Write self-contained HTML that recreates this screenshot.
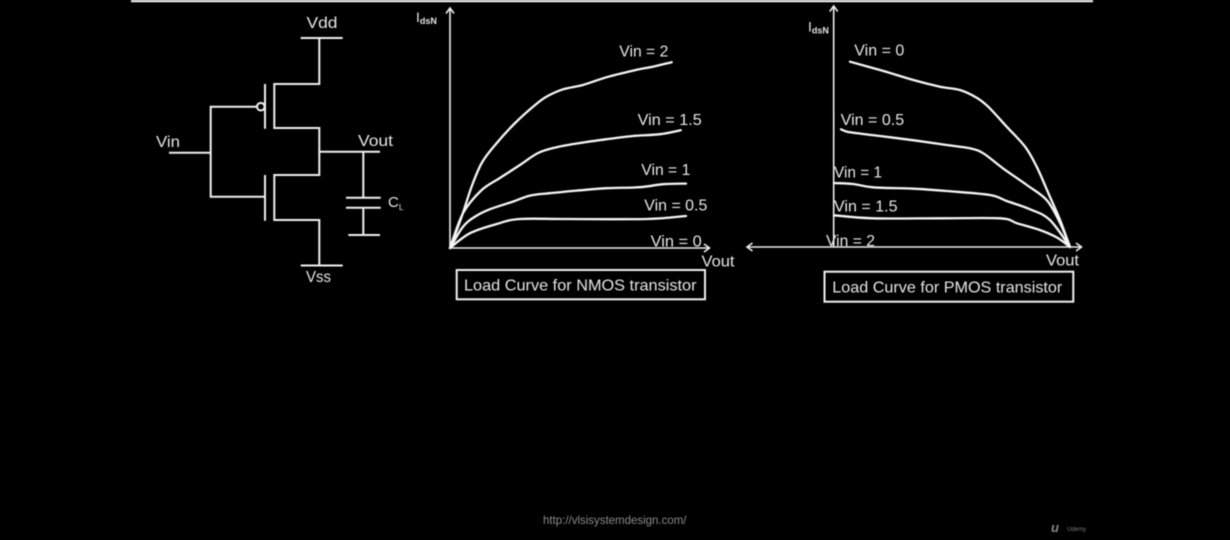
<!DOCTYPE html>
<html>
<head>
<meta charset="utf-8">
<title>CMOS inverter load curves</title>
<style>
html,body{margin:0;padding:0;background:#000;width:1230px;height:540px;overflow:hidden}
svg{display:block}
text{font-family:"Liberation Sans",sans-serif;fill:#e6e6e6;font-size:16px}
.w{stroke:#f0f0f0;stroke-width:2;fill:none}
.axis{stroke:#ececec;stroke-width:1.6;fill:none}
.curve{stroke:#f6f6f6;stroke-width:2.3;fill:none;stroke-linejoin:round;stroke-linecap:round}
</style>
</head>
<body>
<svg xmlns="http://www.w3.org/2000/svg" width="1230" height="540" viewBox="0 0 1230 540">
<defs><filter id="soft" x="-2%" y="-2%" width="104%" height="104%"><feGaussianBlur stdDeviation="0.45"/></filter></defs>
<rect width="1230" height="540" fill="#000"/>
<g filter="url(#soft)">
<rect x="131" y="0" width="962" height="2.2" fill="#f4f4f4"/>

<g>
  <path class="w" d="M300.7 38H342.7M319.3 38V84H274.3V128H319.3V175H274.3V220H319.3V265.5M300.7 265.5H342.7"/>
  <path class="w" d="M169 152.7H210.7M256.5 106.7H210.7V196.7H265M265 84V128.7M265 175V220.7"/>
  <circle class="w" cx="260.8" cy="106.7" r="3.8"/>
  <path class="w" d="M319.3 151.7H380M363.3 151.7V197.7M346 197.7H380.7M346 207.7H380.7M363.3 207.7V235M348.3 235H380"/>
  <text x="306.5" y="28" textLength="31" lengthAdjust="spacingAndGlyphs">Vdd</text>
  <text x="306" y="282" textLength="25" lengthAdjust="spacingAndGlyphs">Vss</text>
  <text x="156" y="147" textLength="24" lengthAdjust="spacingAndGlyphs">Vin</text>
  <text x="358" y="146" textLength="35" lengthAdjust="spacingAndGlyphs">Vout</text>
  <text x="388" y="207" style="font-size:15px">C<tspan dy="3" style="font-size:8px">L</tspan></text>
</g>

<g id="nmos-chart">
  <path class="axis" d="M450 248V8M446 13.5L450 8L454 13.5"/>
  <path class="axis" d="M450 248H709M704 244L709.5 248L704 252"/>
  <text x="416" y="22" style="font-size:14px">I<tspan dy="2" style="font-size:9px;font-weight:bold">dsN</tspan></text>
  <text x="701.5" y="266.5" textLength="33" lengthAdjust="spacingAndGlyphs">Vout</text>
  <text x="619.3" y="56.7" textLength="49" lengthAdjust="spacingAndGlyphs">Vin = 2</text>
  <text x="637.7" y="125" textLength="64" lengthAdjust="spacingAndGlyphs">Vin = 1.5</text>
  <text x="641.3" y="175" textLength="49" lengthAdjust="spacingAndGlyphs">Vin = 1</text>
  <text x="644.3" y="210.7" textLength="63" lengthAdjust="spacingAndGlyphs">Vin = 0.5</text>
  <text x="650.7" y="246.7" textLength="51" lengthAdjust="spacingAndGlyphs">Vin = 0</text>
  <rect class="w" x="456.7" y="270" width="248.3" height="29.3"/>
  <text x="464" y="290.7" textLength="232.5" lengthAdjust="spacingAndGlyphs">Load Curve for NMOS transistor</text>
</g>

<g id="pmos-chart">
  <path class="axis" d="M833.7 247V6M829.7 11.5L833.7 6L837.7 11.5"/>
  <path class="axis" d="M747 247H1081.5M752.5 243L747 247L752.5 251M1076 243L1081.5 247L1076 251"/>
  <text x="808" y="31.5" style="font-size:14px">I<tspan dy="2" style="font-size:9px;font-weight:bold">dsN</tspan></text>
  <text x="1046" y="265.7" textLength="33" lengthAdjust="spacingAndGlyphs">Vout</text>
  <text x="854.3" y="55.7" textLength="50" lengthAdjust="spacingAndGlyphs">Vin = 0</text>
  <text x="840.7" y="125" textLength="63.5" lengthAdjust="spacingAndGlyphs">Vin = 0.5</text>
  <text x="834" y="177.7" textLength="48" lengthAdjust="spacingAndGlyphs">Vin = 1</text>
  <text x="834" y="211.7" textLength="63.5" lengthAdjust="spacingAndGlyphs">Vin = 1.5</text>
  <text x="826" y="246" textLength="49" lengthAdjust="spacingAndGlyphs">Vin = 2</text>
  <rect class="w" x="824.5" y="271.7" width="248.8" height="30"/>
  <text x="832.3" y="292.7" textLength="230" lengthAdjust="spacingAndGlyphs">Load Curve for PMOS transistor</text>
</g>

<text x="543" y="524" textLength="143.5" lengthAdjust="spacingAndGlyphs" style="font-size:12px;fill:#8a8a8a">http://vlsisystemdesign.com/</text>
<g>
  <text x="1051" y="532" style="font-size:13px;font-style:italic;font-weight:bold;fill:#8a8a8a">u</text>
  <text x="1067" y="531" style="font-size:6px;fill:#7a7a7a">Udemy</text>
</g>
</g>
</svg>
<script>
// [Vout %, Ids %]
const nmosVin2 = [[0,0],[5.1,15.7],[9.4,30.7],[13.8,42.5],[19.6,51.5],[28.3,62.5],[37,71.5],[42,75.7],[49.3,79.4],[57.8,81.5],[68.1,85.4],[79.6,88.7],[88.3,90.7],[96.4,92.9]];
const nmosVin15 = [[0,0],[5.7,17.5],[13.8,29],[21.7,35],[30.4,41.5],[38.3,47.5],[46.4,50.4],[56.5,52.5],[68.1,54.4],[79.6,56],[91.3,56.9],[100.3,58.9]];
const nmosVin1 = [[0,0],[5.7,10.7],[10.9,15.7],[17.4,19.4],[27.4,23.2],[34.8,26.2],[43.5,27.4],[55.1,28.7],[68.1,29.9],[82.6,30.4],[92.6,31.9],[102.6,32.2]];
const nmosVin05 = [[0,0],[8.7,7.4],[20.3,12],[30.4,14.5],[50.7,14.5],[85.5,14.5],[102.6,16]];
const pmosVin0 = [[6.9,92.65],[19.6,88.5],[33.7,83.5],[45,80.15],[53.4,78.5],[60.5,74.65],[65.4,70.15],[73.2,60.15],[81,50.15],[85.9,40.15],[91.5,25.15],[95.8,13.5],[100,0]];
const pmosVin05 = [[3.1,58.85],[6.9,57.35],[19.6,55.5],[35.1,53.15],[47.8,51],[57.7,49.35],[63.3,46.85],[71.6,39.35],[81.7,31],[90.1,23.5],[95.8,12],[100,0]];
const pmosVin1 = [[0.1,32],[8.2,31.5],[16.6,29.85],[33.6,29.15],[47.8,28],[66.1,26],[73.2,23],[83.1,18.85],[91.5,13.5],[100,0]];
const pmosVin15 = [[0.1,15.85],[16.6,14.35],[45,14.35],[70.5,14.35],[77.6,11.85],[87.2,8.5],[94.3,4.85],[100,0]];

const SVG_NS = 'http://www.w3.org/2000/svg';
function nmosX(v){ return 450 + v * 2.3; }
function nmosY(i){ return 248 - i * 2; }
function pmosX(v){ return 833.7 + v * 2.363; }
function pmosY(i){ return 247 - i * 2; }

// Smooth path through the points so the curves are not visibly faceted.
function smoothPath(points, xFn, yFn){
  const pts = points.map(function(p){ return [xFn(p[0]), yFn(p[1])]; });
  let d = 'M' + pts[0][0].toFixed(1) + ' ' + pts[0][1].toFixed(1);
  for (let k = 0; k < pts.length - 1; k++) {
    const p0 = pts[Math.max(k - 1, 0)];
    const p1 = pts[k];
    const p2 = pts[k + 1];
    const p3 = pts[Math.min(k + 2, pts.length - 1)];
    const c1x = p1[0] + (p2[0] - p0[0]) / 6;
    const c1y = p1[1] + (p2[1] - p0[1]) / 6;
    const c2x = p2[0] - (p3[0] - p1[0]) / 6;
    const c2y = p2[1] - (p3[1] - p1[1]) / 6;
    d += 'C' + c1x.toFixed(1) + ' ' + c1y.toFixed(1) + ' ' + c2x.toFixed(1) + ' ' + c2y.toFixed(1) + ' ' + p2[0].toFixed(1) + ' ' + p2[1].toFixed(1);
  }
  return d;
}

function drawCurve(parentId, points, xFn, yFn, name){
  const el = document.createElementNS(SVG_NS, 'path');
  el.setAttribute('class', 'curve');
  el.setAttribute('d', smoothPath(points, xFn, yFn));
  
  
  document.getElementById(parentId).appendChild(el);
}

drawCurve('nmos-chart', nmosVin2, nmosX, nmosY, 'nmos-curve-vin-2');
drawCurve('nmos-chart', nmosVin15, nmosX, nmosY, 'nmos-curve-vin-1-5');
drawCurve('nmos-chart', nmosVin1, nmosX, nmosY, 'nmos-curve-vin-1');
drawCurve('nmos-chart', nmosVin05, nmosX, nmosY, 'nmos-curve-vin-0-5');
drawCurve('pmos-chart', pmosVin0, pmosX, pmosY, 'pmos-curve-vin-0');
drawCurve('pmos-chart', pmosVin05, pmosX, pmosY, 'pmos-curve-vin-0-5');
drawCurve('pmos-chart', pmosVin1, pmosX, pmosY, 'pmos-curve-vin-1');
drawCurve('pmos-chart', pmosVin15, pmosX, pmosY, 'pmos-curve-vin-1-5');
</script>
</body>
</html>
